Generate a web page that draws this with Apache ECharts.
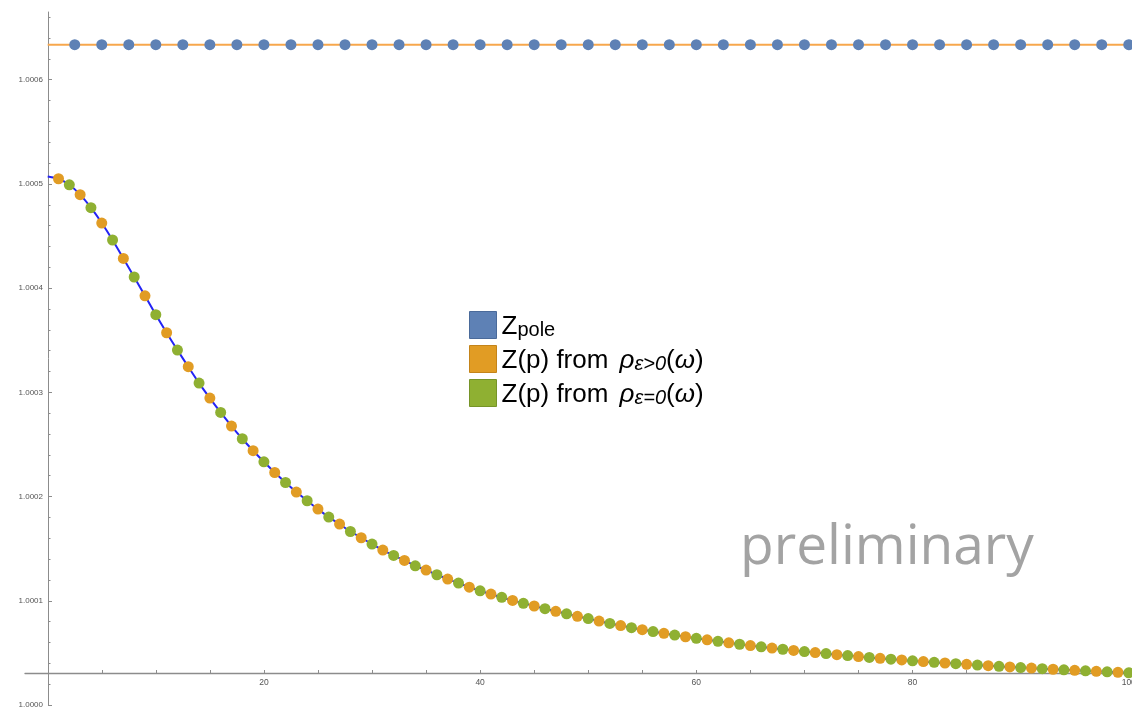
<!DOCTYPE html>
<html>
<head>
<meta charset="utf-8">
<script src="https://cdn.jsdelivr.net/npm/echarts@6/dist/echarts.min.js"></script>
<style>
  html, body { margin: 0; padding: 0; background: #ffffff; }
  #chart { width: 1132px; height: 707px; }
</style>
</head>
<body>
<div id="chart"></div>
<script>
// Renormalisation factor Z at the pole (constant in p)
const zPole = 1.0006336;
const poleMomenta = [2.5, 5, 7.5, 10, 12.5, 15, 17.5, 20, 22.5, 25, 27.5, 30, 32.5, 35, 37.5, 40,
  42.5, 45, 47.5, 50, 52.5, 55, 57.5, 60, 62.5, 65, 67.5, 70, 72.5, 75, 77.5, 80,
  82.5, 85, 87.5, 90, 92.5, 95, 97.5, 100];

// Z(p) at p = 0, 1, 2, ..., 100 (odd p from rho_{eps>0}, even p from rho_{eps=0})
const zOfP = [
  1.0005072, 1.0005050, 1.0004992, 1.0004897, 1.0004772, 1.0004625, 1.0004462, 1.0004285, 1.0004107, 1.0003927,
  1.0003745, 1.0003572, 1.0003406, 1.0003246, 1.0003089, 1.0002945, 1.0002807, 1.0002677, 1.0002555, 1.0002440,
  1.0002334, 1.0002231, 1.0002135, 1.0002043, 1.0001960, 1.0001880, 1.0001803, 1.0001736, 1.0001665, 1.0001605,
  1.0001544, 1.0001487, 1.0001435, 1.0001387, 1.0001336, 1.0001295, 1.0001250, 1.0001208, 1.0001170, 1.0001131,
  1.0001096, 1.0001064, 1.0001033, 1.0001003, 1.0000976, 1.0000950, 1.0000924, 1.0000899, 1.0000875, 1.0000851,
  1.0000829, 1.0000805, 1.0000783, 1.0000762, 1.0000742, 1.0000723, 1.0000705, 1.0000688, 1.0000671, 1.0000655,
  1.0000640, 1.0000625, 1.0000611, 1.0000597, 1.0000583, 1.0000570, 1.0000558, 1.0000546, 1.0000535, 1.0000524,
  1.0000513, 1.0000503, 1.0000493, 1.0000483, 1.0000474, 1.0000465, 1.0000456, 1.0000448, 1.0000440, 1.0000432,
  1.0000424, 1.0000417, 1.0000410, 1.0000403, 1.0000396, 1.0000390, 1.0000383, 1.0000377, 1.0000371, 1.0000365,
  1.0000359, 1.0000354, 1.0000348, 1.0000343, 1.0000338, 1.0000333, 1.0000328, 1.0000323, 1.0000318, 1.0000314,
  1.0000309
];

// Axis ticks and labels
const yTickValues = [1.0000, 1.0001, 1.0002, 1.0003, 1.0004, 1.0005, 1.0006];
const xTickValues = [5, 10, 15, 20, 25, 30, 35, 40, 45, 50, 55, 60, 65, 70, 75, 80, 85, 90, 95, 100];
const xLabelValues = [20, 40, 60, 80, 100];

const seriesNames = ['Zpole', 'Z(p) from ρε>0(ω)', 'Z(p) from ρε=0(ω)'];

// Plot ranges and where the two axes cross
const xMin = -2.1, xMax = 100.3;
const yMin = 1.0000, yMax = 1.000665;
const xAxisCross = 1.0000306;   // y value the horizontal axis sits on
const yAxisCross = 0;           // x value the vertical axis sits on

const chartWidth = 1132, chartHeight = 707;
const gridLeft = 25, gridRight = 0, gridTop = 12, gridBottom = 2;
const plotWidth = chartWidth - gridLeft - gridRight;
const plotHeight = chartHeight - gridTop - gridBottom;
const xAxisOffset = -Math.round((xAxisCross - yMin) / (yMax - yMin) * plotHeight);
const yAxisOffset = -Math.round((yAxisCross - xMin) / (xMax - xMin) * plotWidth);

const curvePoints = zOfP.map((v, p) => [p, v]);
const oddPoints = curvePoints.filter(d => d[0] % 2 === 1);
const evenPoints = curvePoints.filter(d => d[0] > 0 && d[0] % 2 === 0);
const polePoints = poleMomenta.map(p => [p, zPole]);

const axisGrey = '#8c8c8c';
const labelGrey = '#555555';

const legendText = {
  'Zpole': '{m|Z}{sp|pole}',
  'Z(p) from ρε>0(ω)': '{m|Z(p) from }{g|ρ}{se|ε>0}{m|(}{w|ω}{m|)}',
  'Z(p) from ρε=0(ω)': '{m|Z(p) from }{g|ρ}{se|ε=0}{m|(}{w|ω}{m|)}'
};

const chart = echarts.init(document.getElementById('chart'), null, { renderer: 'canvas' });

chart.setOption({
  animation: false,
  backgroundColor: '#ffffff',
  grid: {
    left: gridLeft, right: gridRight, top: gridTop, bottom: gridBottom,
    containLabel: false, outerBoundsMode: 'none'
  },
  xAxis: {
    type: 'value',
    min: xMin,
    max: xMax,
    offset: xAxisOffset,
    axisLine: { onZero: false, lineStyle: { color: axisGrey, width: 1.3 } },
    axisTick: { show: true, inside: true, length: 3, customValues: xTickValues, lineStyle: { color: axisGrey } },
    axisLabel: { customValues: xLabelValues, fontSize: 8.5, color: labelGrey, margin: 5, fontFamily: 'Liberation Sans' },
    splitLine: { show: false }
  },
  yAxis: {
    type: 'value',
    min: yMin,
    max: yMax,
    interval: 0.0001,
    offset: yAxisOffset,
    axisLine: { onZero: false, lineStyle: { color: axisGrey, width: 1 } },
    axisTick: { show: true, inside: true, length: 4, customValues: yTickValues, lineStyle: { color: axisGrey } },
    minorTick: { show: true, splitNumber: 5, length: 2.5, lineStyle: { color: axisGrey } },
    axisLabel: {
      customValues: yTickValues,
      formatter: v => v.toFixed(4),
      fontSize: 8, color: labelGrey, margin: 5, fontFamily: 'Liberation Sans'
    },
    splitLine: { show: false }
  },
  legend: {
    orient: 'vertical',
    left: 469,
    top: 311,
    padding: 0,
    itemWidth: 27,
    itemHeight: 27,
    itemGap: 5,
    icon: 'rect',
    data: [
      { name: seriesNames[0], itemStyle: { color: '#5e81b5', borderColor: '#4a6a9a', borderWidth: 1 } },
      { name: seriesNames[1], itemStyle: { color: '#e19c24', borderColor: '#c4841a', borderWidth: 1 } },
      { name: seriesNames[2], itemStyle: { color: '#8fb032', borderColor: '#769428', borderWidth: 1 } }
    ],
    formatter: name => legendText[name],
    textStyle: {
      rich: {
        m: { fontSize: 26, fontFamily: 'Liberation Sans', color: '#000', lineHeight: 30, verticalAlign: 'bottom' },
        sp: { fontSize: 20, fontFamily: 'Liberation Sans', color: '#000', lineHeight: 22, verticalAlign: 'bottom' },
        g: { fontSize: 26, fontFamily: 'Liberation Sans', fontStyle: 'italic', color: '#000', lineHeight: 30, verticalAlign: 'bottom', padding: [0, 0, 0, 4] },
        w: { fontSize: 26, fontFamily: 'Liberation Sans', fontStyle: 'italic', color: '#000', lineHeight: 30, verticalAlign: 'bottom' },
        se: { fontSize: 20, fontFamily: 'Liberation Sans', fontStyle: 'italic', color: '#000', lineHeight: 16, verticalAlign: 'bottom' }
      }
    },
    selectedMode: false
  },
  graphic: [{
    type: 'text',
    left: 740,
    top: 521,
    silent: true,
    style: { text: 'preliminary', fontSize: 55, fontFamily: 'Open Sans', fill: '#a3a3a3' }
  }],
  series: [
    {
      name: 'pole line',
      type: 'line',
      data: [[0, zPole], [xMax, zPole]],
      showSymbol: false,
      lineStyle: { color: '#f7a74c', width: 2 },
      z: 1
    },
    {
      name: 'Z(p) curve',
      type: 'line',
      data: curvePoints,
      showSymbol: false,
      smooth: 0.2,
      lineStyle: { color: '#2323f5', width: 2 },
      z: 2
    },
    {
      name: seriesNames[0],
      type: 'scatter',
      data: polePoints,
      symbolSize: 11,
      itemStyle: { color: '#5e81b5', opacity: 1 },
      z: 3
    },
    {
      name: seriesNames[1],
      type: 'scatter',
      data: oddPoints,
      symbolSize: 11,
      itemStyle: { color: '#e19c24', opacity: 1 },
      z: 3
    },
    {
      name: seriesNames[2],
      type: 'scatter',
      data: evenPoints,
      symbolSize: 11,
      itemStyle: { color: '#8fb032', opacity: 1 },
      z: 4
    }
  ]
});
</script>
</body>
</html>
